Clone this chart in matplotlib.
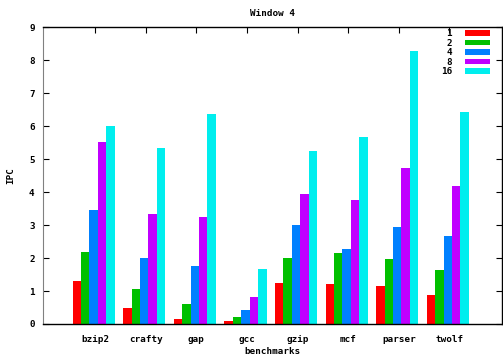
import matplotlib
matplotlib.use("Agg")
import matplotlib.pyplot as plt
import numpy as np
from matplotlib.patches import Patch

benchmarks = ["bzip2", "crafty", "gap", "gcc", "gzip", "mcf", "parser", "twolf"]
series_labels = ["1", "2", "4", "8", "16"]
ipc_1 = [1.31, 0.47, 0.15, 0.08, 1.23, 1.20, 1.16, 0.89]
ipc_2 = [2.19, 1.05, 0.60, 0.20, 1.99, 2.14, 1.96, 1.64]
ipc_4 = [3.47, 1.99, 1.75, 0.41, 3.00, 2.28, 2.95, 2.67]
ipc_8 = [5.53, 3.32, 3.25, 0.83, 3.93, 3.77, 4.72, 4.18]
ipc_16 = [6.00, 5.33, 6.37, 1.66, 5.23, 5.66, 8.28, 6.42]
colors = ["#ff0000", "#00c000", "#0080ff", "#c000ff", "#00eeee"]

series = [ipc_1, ipc_2, ipc_4, ipc_8, ipc_16]

FONT = "DejaVu Sans Mono"
fs = 6.7

fig = plt.figure(figsize=(5.03, 3.56), dpi=100)
ax = fig.add_axes([0.0855, 0.0899, 0.9125, 0.8341])

x = np.arange(len(benchmarks))
w = 1.0 / 6
for i, (vals, c) in enumerate(zip(series, colors)):
    ax.bar(x + (i - 2) * w - 0.03, vals, width=w, color=c, align="center", linewidth=0)

ax.set_xlim(-1.03, 8.04)
ax.set_ylim(0, 9)
ax.set_yticks(range(10))
ax.set_xticks(x)
ax.set_xticklabels(benchmarks, fontfamily=FONT, fontweight="bold", fontsize=fs)
for lab in ax.get_yticklabels():
    lab.set_fontfamily(FONT)
    lab.set_fontweight("bold")
    lab.set_fontsize(fs)
ax.tick_params(axis="both", direction="in", length=4, width=0.8, top=True, right=True, pad=6)
ax.tick_params(axis="x", bottom=False, pad=8)
for s in ["top", "right", "bottom"]:
    ax.spines[s].set_color("black")
    ax.spines[s].set_linewidth(1.0)
ax.spines["left"].set_color("#808080")

ax.set_title("Window 4", fontfamily=FONT, fontweight="bold", fontsize=fs, pad=8)
ax.set_xlabel("benchmarks", fontfamily=FONT, fontweight="bold", fontsize=fs, labelpad=2)
ax.set_ylabel("IPC", fontfamily=FONT, fontweight="bold", fontsize=fs, labelpad=10)

handles = [Patch(facecolor=c, edgecolor="none") for c in colors]
leg = ax.legend(handles, series_labels, loc="upper right", bbox_to_anchor=(0.974, 0.992),
                frameon=False, markerfirst=False, handlelength=2.7, handleheight=0.55,
                labelspacing=0.05, handletextpad=1.4, borderpad=0, borderaxespad=0,
                prop={"family": FONT, "weight": "bold", "size": fs})
for t in leg.get_texts():
    t.set_ha("right")

fig.savefig("out.png", dpi=100)
